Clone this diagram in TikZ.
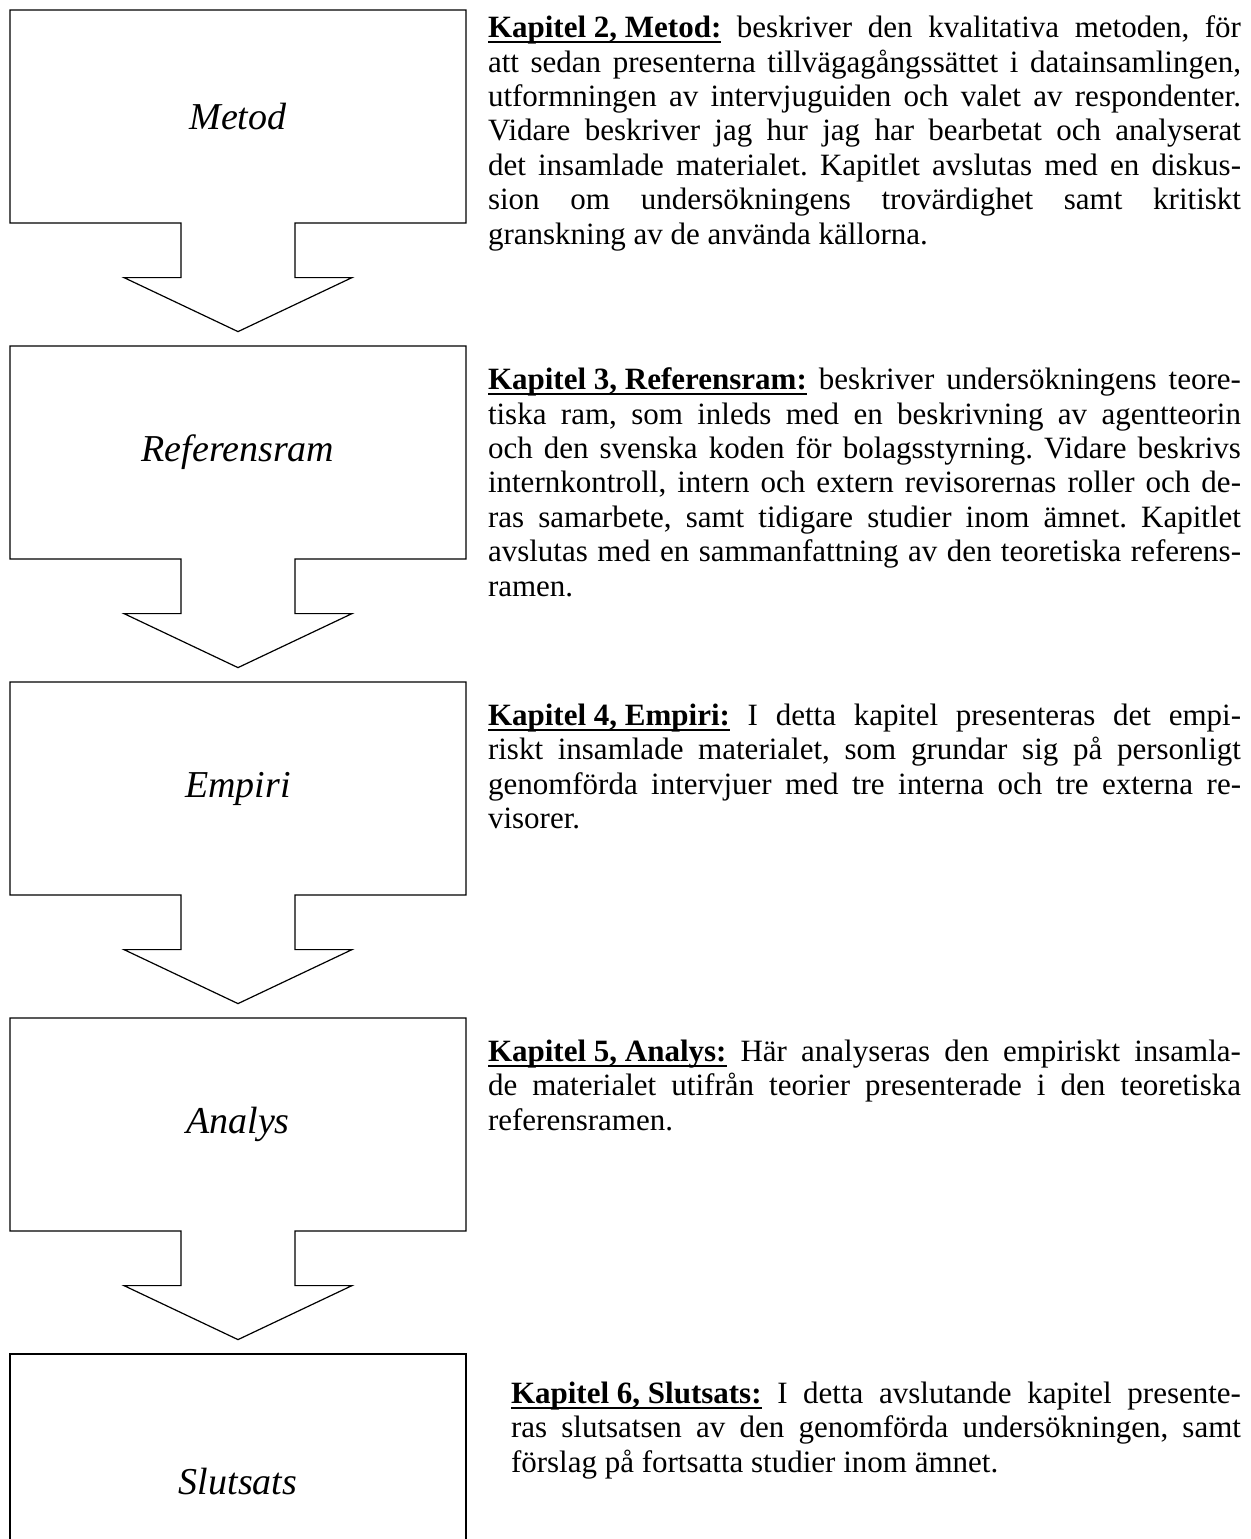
\documentclass[tikz,border=0pt]{standalone}
\usepackage{fontspec}
\setmainfont{Liberation Serif}
\usetikzlibrary{shapes.arrows}
\tolerance=10000
\hyphenpenalty=10000
\frenchspacing
\newlength\kapwd
\newcommand\kap[1]{\settowidth{\kapwd}{\textbf{#1}}%
    \mbox{\rlap{\rule[-2.6pt]{\kapwd}{0.75pt}}\textbf{#1}}}

\begin{document}
\begin{tikzpicture}[x=0.5pt, y=-0.5pt,
    chapbox/.style={draw, line width=0.6pt, minimum width=228pt, minimum height=106.5pt,
        inner sep=0pt, font=\fontsize{19}{22}\selectfont\itshape},
    flowbox/.style={chapbox, shape=arrow box, arrow box arrows={south:54pt},
        arrow box shaft width=57pt, arrow box head extend=28.5pt,
        arrow box head indent=0pt, arrow box tip angle=129.3},
    desc/.style={anchor=north west, inner sep=0pt, text width=376.5pt, align=justify,
        font=\fontsize{15.5}{17.2}\selectfont}]
    \useasboundingbox (0,0) rectangle (1251,1539);
    % left column: chapters with arrows
    \node[flowbox] (metod)       at (238,116.5)  {Metod};
    \node[flowbox] (referensram) at (238,452.5)  {Referensram};
    \node[flowbox] (empiri)      at (238,788.5)  {Empiri};
    \node[flowbox] (analys)      at (238,1124.5) {Analys};
    \node[chapbox, minimum height=128pt] (slutsats) at (238,1482) {Slutsats};
    % right column: descriptions
    \node[desc] (metodtext) at ([xshift=10.5pt, yshift=-3pt]metod.north east)
        {\kap{Kapitel 2, Metod:} beskriver den kvalitativa metoden, för\linebreak
        att sedan presenterna tillvägagångssättet i datainsamlingen,\linebreak
        utformningen av intervjuguiden och valet av respondenter.\linebreak
        Vidare beskriver jag hur jag har bearbetat och analyserat\linebreak
        det insamlade materialet. Kapitlet avslutas med en diskus-\linebreak
        sion om undersökningens trovärdighet samt kritiskt\linebreak
        granskning av de använda källorna.};
    \node[desc] (referensramtext) at ([xshift=10.5pt, yshift=-11pt]referensram.north east)
        {\kap{Kapitel 3, Referensram:} beskriver undersökningens teore-\linebreak
        tiska ram, som inleds med en beskrivning av agentteorin\linebreak
        och den svenska koden för bolagsstyrning. Vidare beskrivs\linebreak
        internkontroll, intern och extern revisorernas roller och de-\linebreak
        ras samarbete, samt tidigare studier inom ämnet. Kapitlet\linebreak
        avslutas med en sammanfattning av den teoretiska referens-\linebreak
        ramen.};
    \node[desc] (empiritext) at ([xshift=10.5pt, yshift=-11pt]empiri.north east)
        {\kap{Kapitel 4, Empiri:} I detta kapitel presenteras det empi-\linebreak
        riskt insamlade materialet, som grundar sig på personligt\linebreak
        genomförda intervjuer med tre interna och tre externa re-\linebreak
        visorer.};
    \node[desc] (analystext) at ([xshift=10.5pt, yshift=-11pt]analys.north east)
        {\kap{Kapitel 5, Analys:} Här analyseras den empiriskt insamla-\linebreak
        de materialet utifrån teorier presenterade i den teoretiska\linebreak
        referensramen.};
    \node[desc, text width=365pt] (slutsatstext) at ([xshift=22pt, yshift=-14pt]slutsats.north east)
        {\kap{Kapitel 6, Slutsats:} I detta avslutande kapitel presente-\linebreak
        ras slutsatsen av den genomförda undersökningen, samt\linebreak
        förslag på fortsatta studier inom ämnet.};
\end{tikzpicture}
\end{document}
